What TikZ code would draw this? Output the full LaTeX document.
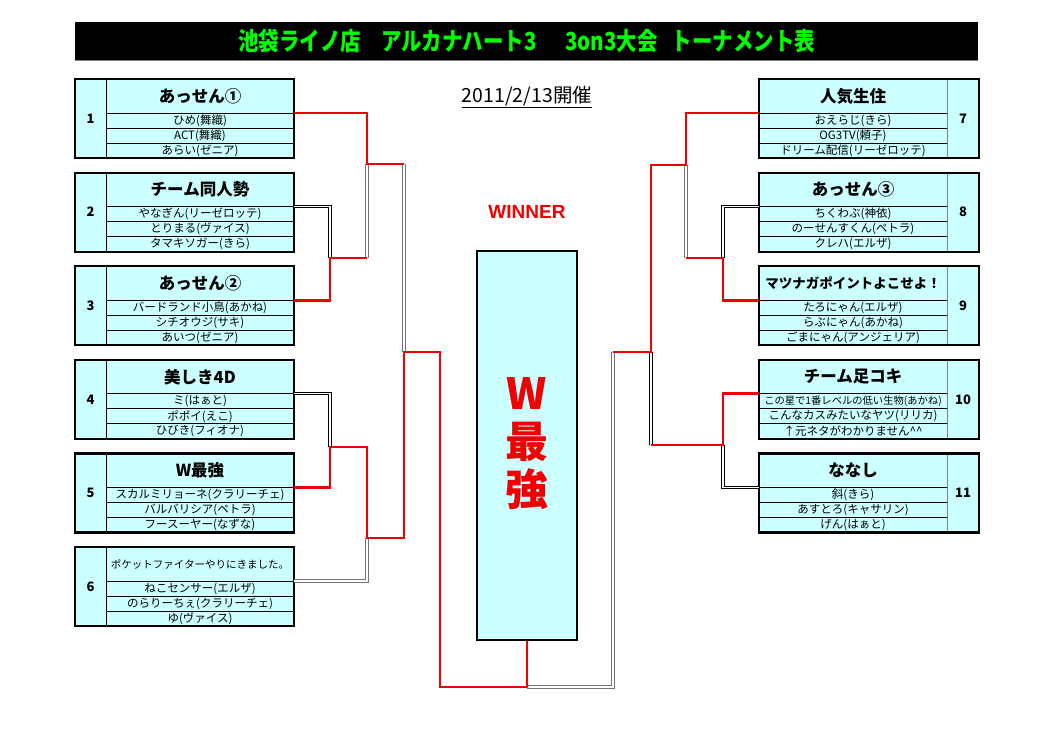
\documentclass[tikz,border=0pt]{standalone}
\usepackage{fontspec}
\setmainfont{Noto Sans CJK JP}
\newfontfamily\latinsans{Liberation Sans}
\usetikzlibrary{positioning}
\definecolor{paleaqua}{RGB}{204,255,255}
\definecolor{winred}{RGB}{240,0,0}
\definecolor{titlegreen}{RGB}{0,255,0}

\begin{document}
\begin{tikzpicture}[x=1pt, y=-1pt,
  teamcell/.style={draw=black, line width=0.7pt, fill=paleaqua,
    inner sep=0pt, outer sep=0pt, minimum width=188},
  headcell/.style={teamcell, minimum height=34,
    font=\fontsize{16.5}{18}\selectfont\bfseries},
  rowcell/.style={teamcell, minimum height=15,
    font=\fontsize{11.5}{12}\selectfont},
  numcell/.style={teamcell, draw=gray, minimum width=31, minimum height=79,
    font=\fontsize{13}{14}\selectfont\bfseries},
  teamframe/.style={draw=black, line width=2.2pt},
  winline/.style={draw=winred, line width=2.8pt},
  loseline/.style={draw=black, double=white, line width=1pt,
    double distance=1.3pt},
  loseline2/.style={loseline, draw=black!55}]
\useasboundingbox (0,0) rectangle (1053,744);

% title bar
\draw[gray, line width=1.2pt] (75,60.5) -- (978,60.5);
\node[fill=black, minimum width=903, minimum height=38, inner sep=0pt,
  anchor=north west, text=titlegreen,
  font=\fontsize{23}{24}\selectfont\bfseries] (title) at (75,22)
  {\scalebox{0.89}[1.08]{池袋ライノ店\hspace{1em}アルカナハート3\hspace{1.4em}3on3大会\hspace{0.7em}トーナメント表}};

\node[font=\fontsize{19.5}{21}\selectfont] (date) at (527,97)
  {\underline{2011/2/13開催}};
\node[text=winred, font=\fontsize{19}{20}\selectfont\latinsans\bfseries]
  (winner) at (527,212) {WINNER};

% left side
\foreach \i/\y/\head/\pa/\pb/\pc in {
  1/79/あっせん①/ひめ(舞織)/ACT(舞織)/あらい(ゼニア),
  2/172.6/チーム同人勢/やなぎん(リーゼロッテ)/とりまる(ヴァイス)/タマキソガー(きら),
  3/266.2/あっせん②/バードランド小鳥(あかね)/シチオウジ(サキ)/あいつ(ゼニア),
  4/359.8/美しき4D/ミ(はぁと)/ポポイ(えこ)/ひびき(フィオナ),
  5/453.4/W最強/スカルミリョーネ(クラリーチェ)/バルバリシア(ペトラ)/フースーヤー(なずな),
  6/547/{\fontsize{10.5}{12}\selectfont\mdseries ポケットファイターやりにきました。}/ねこセンサー(エルザ)/のらりーちぇ(クラリーチェ)/ゆ(ヴァイス)
}{
  \node[numcell, anchor=north west] (n\i) at (75,\y) {\i};
  \node[headcell, anchor=north west] (h\i) at (n\i.north east) {\head};
  \node[rowcell, below=0pt of h\i] (a\i) {\pa};
  \node[rowcell, below=0pt of a\i] (b\i) {\pb};
  \node[rowcell, below=0pt of b\i] (c\i) {\pc};
  \draw[teamframe] (n\i.north west) rectangle (c\i.south east);
}

% right side
\foreach \i/\y/\head/\pa/\pb/\pc in {
  7/79/人気生住/おえらじ(きら)/OG3TV(頼子)/ドリーム配信(リーゼロッテ),
  8/172.6/あっせん③/ちくわぶ(神依)/のーせんすくん(ペトラ)/クレハ(エルザ),
  9/266.2/{\fontsize{13.5}{15}\selectfont マツナガポイントよこせよ！}/たろにゃん(エルザ)/らぶにゃん(あかね)/ごまにゃん(アンジェリア),
  10/359.8/チーム足コキ/{\fontsize{10.3}{12}\selectfont この星で1番レベルの低い生物(あかね)}/こんなカスみたいなヤツ(リリカ)/↑元ネタがわかりません\textasciicircum\textasciicircum,
  11/453.4/ななし/斜(きら)/あすとろ(キャサリン)/げん(はぁと)
}{
  \node[headcell, anchor=north west] (h\i) at (759,\y) {\head};
  \node[rowcell, below=0pt of h\i] (a\i) {\pa};
  \node[rowcell, below=0pt of a\i] (b\i) {\pb};
  \node[rowcell, below=0pt of b\i] (c\i) {\pc};
  \node[numcell, anchor=north west, minimum width=32] (n\i) at (h\i.north east) {\i};
  \draw[teamframe] (h\i.north west) rectangle (n\i.south east);
}

% winner box
\node[draw=black, line width=2.2pt, fill=paleaqua, minimum width=100,
  minimum height=389, inner sep=0pt] (win) at (527,445.5) {};
\node[text=winred, align=center, font=\fontsize{43}{48}\selectfont\bfseries]
  (wintext) at (527,444) {W\\最\\強};

% junctions
\coordinate (m23) at (330,258);
\coordinate (m123) at (367,164);
\coordinate (m45) at (330,447);
\coordinate (m456) at (367,538);
\coordinate (sL) at (404,352);
\coordinate (fL) at (440,352);
\coordinate (m89) at (723,258);
\coordinate (m789) at (686,165);
\coordinate (m1011) at (723,445);
\coordinate (sR) at (651,352);
\coordinate (fR) at (613,352);
\coordinate (base) at (527,687);

% losing paths
\draw[loseline] (h2.south east) -| (m23);
\draw[loseline2] (m23 -| m123) -- (m123);
\draw[loseline2] (m123 -| sL) -- (sL);
\draw[loseline] (h4.south east) -| (m45);
\draw[loseline2] (h6.south east) -| (m456);
\draw[loseline2] (fR) |- (base);
\draw[loseline] (h8.south west) -| (m89);
\draw[loseline2] (m89 -| m789) -- (m789);
\draw[loseline] (h11.south west) -| (m1011);
\draw[loseline] (m1011 -| sR) -- (sR);

% winning paths
\draw[winline] (h3.south east) -| (m23) -- (m23 -| m123);
\draw[winline] (h1.south east) -| (m123) -- (m123 -| sL);
\draw[winline] (h5.south east) -| (m45) -| (m456) -- (m456 -| sL)
  -- (sL) -- (fL) |- (base) -- (win.south);
\draw[winline] (h9.south west) -| (m89) -- (m89 -| m789);
\draw[winline] (h7.south west) -| (m789) -- (m789 -| sR) -- (sR) -- (fR);
\draw[winline] (h10.south west) -| (m1011) -- (m1011 -| sR);
\end{tikzpicture}
\end{document}
